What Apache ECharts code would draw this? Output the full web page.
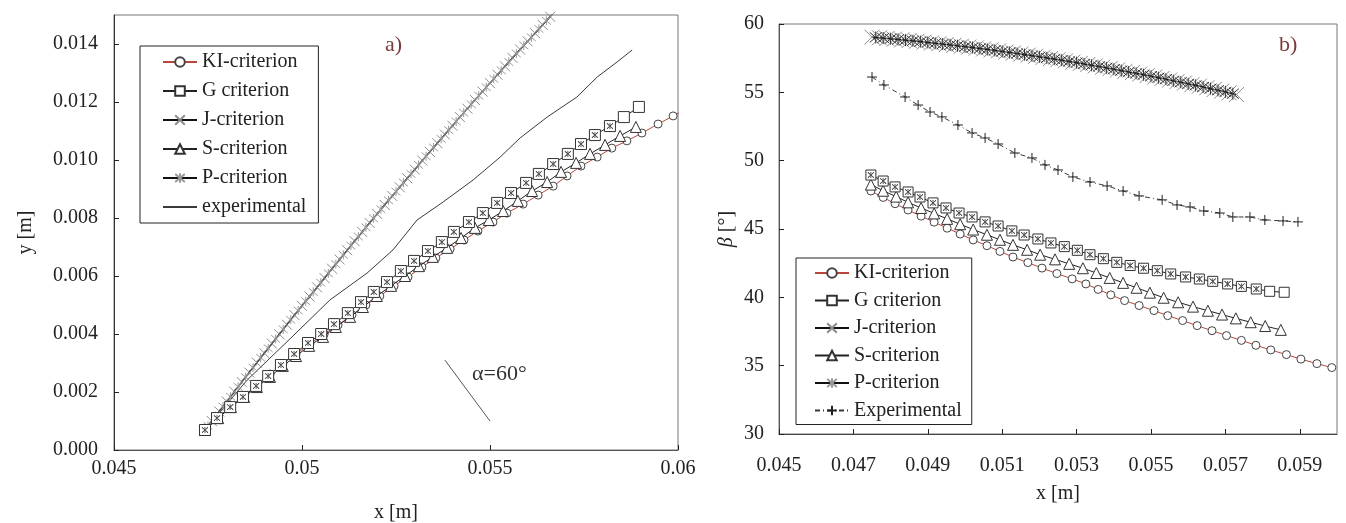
<!DOCTYPE html>
<html>
<head>
<meta charset="utf-8">
<title>Crack path criteria</title>
<script src="https://cdn.jsdelivr.net/npm/echarts@6/dist/echarts.min.js"></script>
<style>
html,body{margin:0;padding:0;background:#fff;}
#main{width:1346px;height:523px;}
</style>
</head>
<body>
<div id="main"></div>
<script>
// ---------- panel a) : crack path, y [m] vs x [m] ----------
const aJX = [0.0474,0.0476,0.0478,0.0480,0.0482,0.0484,0.0486,0.0488,0.0490,0.0492,0.0494,0.0496,0.0498,0.0500,0.0502,0.0504,0.0506,0.0508,0.0510,0.0512,0.0514,0.0516,0.0518,0.0520,0.0522,0.0524,0.0526,0.0528,0.0530,0.0532,0.0534,0.0536,0.0538,0.0540,0.0542,0.0544,0.0546,0.0548,0.0550,0.0552,0.0554,0.0556,0.0558,0.0560,0.0562,0.0564,0.0566]
const aJY = [0.00066,0.00100,0.00133,0.00167,0.00201,0.00234,0.00267,0.00301,0.00334,0.00367,0.00399,0.00432,0.00465,0.00497,0.00529,0.00561,0.00593,0.00625,0.00657,0.00689,0.00720,0.00752,0.00783,0.00814,0.00845,0.00876,0.00906,0.00937,0.00967,0.00998,0.01028,0.01058,0.01088,0.01118,0.01148,0.01177,0.01207,0.01236,0.01265,0.01294,0.01323,0.01352,0.01381,0.01409,0.01437,0.01466,0.01494]
const aPX = [0.0475,0.0477,0.0479,0.0481,0.0483,0.0485,0.0487,0.0489,0.0491,0.0493,0.0495,0.0497,0.0499,0.0501,0.0503,0.0505,0.0507,0.0509,0.0511,0.0513,0.0515,0.0517,0.0519,0.0521,0.0523,0.0525,0.0527,0.0529,0.0531,0.0533,0.0535,0.0537,0.0539,0.0541,0.0543,0.0545,0.0547,0.0549,0.0551,0.0553,0.0555,0.0557,0.0559,0.0561,0.0563,0.0565,0.0567]
const aPY = [0.00083,0.00117,0.00150,0.00184,0.00218,0.00251,0.00284,0.00318,0.00351,0.00383,0.00416,0.00449,0.00481,0.00513,0.00545,0.00577,0.00609,0.00641,0.00673,0.00705,0.00736,0.00768,0.00799,0.00830,0.00861,0.00891,0.00922,0.00952,0.00983,0.01013,0.01043,0.01073,0.01103,0.01133,0.01163,0.01192,0.01222,0.01251,0.01280,0.01309,0.01338,0.01367,0.01395,0.01423,0.01452,0.01480,0.01508]
const aGX = [0.04742,0.04774,0.04809,0.04843,0.04878,0.04910,0.04944,0.04979,0.05016,0.05051,0.05085,0.05122,0.05157,0.05191,0.05226,0.05263,0.05298,0.05335,0.05372,0.05404,0.05444,0.05481,0.05519,0.05556,0.05596,0.05630,0.05668,0.05707,0.05742,0.05779,0.05819,0.05856,0.05896]
const aGY = [0.00069,0.00110,0.00148,0.00183,0.00221,0.00255,0.00293,0.00331,0.00369,0.00400,0.00434,0.00472,0.00510,0.00545,0.00579,0.00617,0.00652,0.00686,0.00717,0.00752,0.00786,0.00817,0.00852,0.00886,0.00921,0.00952,0.00986,0.01021,0.01055,0.01086,0.01117,0.01148,0.01183]
const aSX = [0.04742,0.04777,0.04811,0.04846,0.04880,0.04915,0.04949,0.04984,0.05019,0.05056,0.05090,0.05128,0.05162,0.05199,0.05237,0.05274,0.05311,0.05348,0.05386,0.05423,0.05460,0.05497,0.05535,0.05574,0.05612,0.05652,0.05689,0.05729,0.05766,0.05806,0.05846,0.05888]
const aSY = [0.00069,0.00110,0.00148,0.00183,0.00217,0.00252,0.00290,0.00324,0.00359,0.00390,0.00424,0.00459,0.00493,0.00531,0.00566,0.00600,0.00634,0.00666,0.00697,0.00731,0.00766,0.00793,0.00824,0.00859,0.00893,0.00924,0.00959,0.00990,0.01021,0.01052,0.01083,0.01114]
const aKiX = [0.04742,0.04777,0.04811,0.04846,0.04880,0.04915,0.04949,0.04984,0.05021,0.05059,0.05096,0.05133,0.05170,0.05207,0.05245,0.05282,0.05319,0.05356,0.05394,0.05431,0.05468,0.05508,0.05545,0.05588,0.05628,0.05668,0.05705,0.05742,0.05785,0.05824,0.05864,0.05904,0.05947,0.05987,0.06027]
const aKiY = [0.00069,0.00110,0.00148,0.00186,0.00224,0.00262,0.00297,0.00331,0.00366,0.00400,0.00431,0.00466,0.00500,0.00531,0.00566,0.00597,0.00631,0.00662,0.00693,0.00724,0.00755,0.00786,0.00817,0.00848,0.00879,0.00910,0.00945,0.00979,0.01010,0.01041,0.01066,0.01093,0.01124,0.01152,0.01179]
const aExpX = [0.04742,0.04854,0.04968,0.05074,0.05173,0.05242,0.05306,0.05375,0.05455,0.05527,0.05580,0.05652,0.05731,0.05785,0.05838,0.05878]
const aExpY = [0.00069,0.00241,0.00383,0.00517,0.00610,0.00690,0.00793,0.00855,0.00931,0.01010,0.01076,0.01148,0.01217,0.01286,0.01338,0.01379]
const aAlpha = [[0.0538,0.0031],[0.0550,0.0010]]   // 60 degree guide line
const aXTicks = [0.045,0.05,0.055,0.06]
const aYTicks = [0,0.002,0.004,0.006,0.008,0.010,0.012,0.014]

// ---------- panel b) : crack angle beta [deg] vs x [m] ----------
const bJX = [0.0475,0.0477,0.0479,0.0481,0.0483,0.0485,0.0487,0.0489,0.0491,0.0493,0.0495,0.0497,0.0499,0.0501,0.0503,0.0505,0.0507,0.0509,0.0511,0.0513,0.0515,0.0517,0.0519,0.0521,0.0523,0.0525,0.0527,0.0529,0.0531,0.0533,0.0535,0.0537,0.0539,0.0541,0.0543,0.0545,0.0547,0.0549,0.0551,0.0553,0.0555,0.0557,0.0559,0.0561,0.0563,0.0565,0.0567,0.0569,0.0571,0.0573]
const bJY = [59.04,58.99,58.94,58.89,58.84,58.79,58.74,58.68,58.62,58.56,58.50,58.44,58.37,58.31,58.24,58.17,58.10,58.03,57.95,57.88,57.80,57.72,57.64,57.56,57.47,57.39,57.30,57.21,57.12,57.03,56.93,56.84,56.74,56.64,56.54,56.44,56.34,56.23,56.12,56.02,55.90,55.79,55.68,55.56,55.45,55.33,55.21,55.09,54.96,54.84]
const bPX = [0.0476,0.0478,0.0480,0.0482,0.0484,0.0486,0.0488,0.0490,0.0492,0.0494,0.0496,0.0498,0.0500,0.0502,0.0504,0.0506,0.0508,0.0510,0.0512,0.0514,0.0516,0.0518,0.0520,0.0522,0.0524,0.0526,0.0528,0.0530,0.0532,0.0534,0.0536,0.0538,0.0540,0.0542,0.0544,0.0546,0.0548,0.0550,0.0552,0.0554,0.0556,0.0558,0.0560,0.0562,0.0564,0.0566,0.0568,0.0570,0.0572]
const bPY = [59.02,58.97,58.92,58.87,58.82,58.77,58.71,58.65,58.59,58.53,58.47,58.41,58.34,58.28,58.21,58.14,58.07,57.99,57.92,57.84,57.76,57.68,57.60,57.52,57.43,57.35,57.26,57.17,57.08,56.98,56.89,56.79,56.69,56.59,56.49,56.39,56.29,56.18,56.07,55.96,55.85,55.74,55.62,55.51,55.39,55.27,55.15,55.03,54.90]
const bGX = [0.04747,0.04780,0.04812,0.04847,0.04879,0.04914,0.04949,0.04984,0.05019,0.05054,0.05089,0.05126,0.05159,0.05196,0.05231,0.05267,0.05302,0.05336,0.05372,0.05408,0.05444,0.05480,0.05517,0.05553,0.05593,0.05630,0.05666,0.05706,0.05743,0.05783,0.05819,0.05858]
const bGY = [48.95,48.51,48.08,47.71,47.34,46.91,46.54,46.17,45.88,45.52,45.22,44.86,44.56,44.27,43.98,43.71,43.44,43.12,42.83,42.56,42.33,42.13,41.95,41.71,41.49,41.34,41.17,40.98,40.80,40.61,40.44,40.37]
const bSX = [0.04747,0.04780,0.04815,0.04847,0.04882,0.04917,0.04952,0.04987,0.05022,0.05059,0.05094,0.05129,0.05167,0.05202,0.05242,0.05280,0.05317,0.05353,0.05389,0.05425,0.05461,0.05497,0.05534,0.05573,0.05613,0.05653,0.05691,0.05728,0.05768,0.05807,0.05849]
const bSY = [48.25,47.80,47.37,46.95,46.54,46.14,45.74,45.35,44.96,44.58,44.21,43.84,43.48,43.12,42.78,42.45,42.13,41.78,41.42,41.06,40.70,40.34,39.97,39.64,39.32,39.02,38.74,38.46,38.18,37.90,37.62]
const bKiX = [0.04747,0.04780,0.04812,0.04847,0.04882,0.04917,0.04952,0.04987,0.05022,0.05059,0.05094,0.05129,0.05169,0.05207,0.05247,0.05288,0.05325,0.05358,0.05392,0.05429,0.05468,0.05508,0.05545,0.05585,0.05624,0.05664,0.05703,0.05743,0.05782,0.05822,0.05864,0.05903,0.05946,0.05986]
const bKiY = [47.78,47.31,46.85,46.39,45.94,45.50,45.06,44.63,44.20,43.78,43.36,42.95,42.54,42.14,41.74,41.35,40.98,40.58,40.18,39.76,39.40,39.03,38.66,38.30,37.93,37.56,37.20,36.85,36.49,36.15,35.81,35.48,35.15,34.86]
const bExpX = [0.04750,0.04782,0.04839,0.04874,0.04906,0.04938,0.04981,0.05019,0.05054,0.05089,0.05134,0.05180,0.05215,0.05250,0.05290,0.05336,0.05382,0.05425,0.05468,0.05530,0.05570,0.05605,0.05642,0.05685,0.05720,0.05766,0.05806,0.05855,0.05895]
const bExpY = [56.12,55.54,54.66,54.07,53.56,53.20,52.61,52.03,51.66,51.22,50.56,50.20,49.69,49.32,48.81,48.44,48.15,47.78,47.42,47.13,46.76,46.61,46.32,46.17,45.88,45.88,45.66,45.59,45.52]
const bXTicks = [0.045,0.047,0.049,0.051,0.053,0.055,0.057,0.059]

const namesA = ['KI-criterion','G criterion','J-criterion','S-criterion','P-criterion','experimental']
const namesB = ['KI-criterion','G criterion','J-criterion','S-criterion','P-criterion','Experimental']

const SERIF = "'Liberation Serif','DejaVu Serif',serif"
const X_SYM = 'path://M0,0L10,10M10,0L0,10'
const STAR_SYM = 'path://M0,0L10,10M10,0L0,10M5,-1L5,11'
const PLUS_SYM = 'path://M5,0L5,10M0,5L10,5'
const NO_SYM = 'path://M0,0L10,10'   // drawn with a transparent stroke: plain line in the legend

function pairs(xs, ys) {
  return xs.map((x, i) => [x, ys[i]])
}

function hollow(border) {
  return { color: '#fff', borderColor: border, borderWidth: 1 }
}
function stroked(border, w) {
  return { color: 'none', borderColor: border, borderWidth: w || 1 }
}

// one panel worth of series
function panelSeries(idx, d) {
  return [
    { name: 'J-criterion', type: 'line', xAxisIndex: idx, yAxisIndex: idx, data: d.j,
      symbol: X_SYM, symbolSize: d.bandSize, lineStyle: { color: '#111', width: 1.2 },
      itemStyle: stroked(d.bandColor), z: 3 },
    { name: 'P-criterion', type: 'line', xAxisIndex: idx, yAxisIndex: idx, data: d.p,
      symbol: STAR_SYM, symbolSize: d.starSize, lineStyle: { color: '#111', width: 1.2 },
      itemStyle: stroked(d.starColor), z: 3 },
    { name: d.expName, type: 'line', xAxisIndex: idx, yAxisIndex: idx, data: d.exp,
      symbol: d.expSymbol, symbolSize: 10, showSymbol: d.expSymbol !== NO_SYM,
      lineStyle: { color: '#3a3a3a', width: 1, type: d.expDash },
      itemStyle: stroked(d.expSymbol === NO_SYM ? 'rgba(0,0,0,0)' : '#222'), z: 3, markLine: d.markLine },
    { name: 'KI-criterion', type: 'line', xAxisIndex: idx, yAxisIndex: idx, data: d.ki,
      symbol: 'circle', symbolSize: 8, lineStyle: { color: '#b8463e', width: 1 },
      itemStyle: hollow('#444'), z: 4 },
    { name: 'S-criterion', type: 'line', xAxisIndex: idx, yAxisIndex: idx, data: d.s,
      symbol: 'triangle', symbolSize: 11, lineStyle: { color: '#222', width: 1 },
      itemStyle: hollow('#333'), z: 5 },
    { name: 'G criterion', type: 'line', xAxisIndex: idx, yAxisIndex: idx, data: d.g,
      symbol: 'rect', symbolSize: d.sqSize, lineStyle: { color: '#222', width: 1 },
      itemStyle: hollow('#333'), z: 6 },
    // J and P land on the G points as well (small marks inside the squares)
    { name: 'J-criterion', type: 'line', xAxisIndex: idx, yAxisIndex: idx, data: d.gInner,
      symbol: X_SYM, symbolSize: 6, lineStyle: { opacity: 0 },
      itemStyle: stroked('#444'), z: 7 },
    { name: 'P-criterion', type: 'line', xAxisIndex: idx, yAxisIndex: idx, data: d.gInner,
      symbol: STAR_SYM, symbolSize: 6, lineStyle: { opacity: 0 },
      itemStyle: stroked('#555'), z: 7 }
  ]
}

const seriesA = panelSeries(0, {
  j: pairs(aJX, aJY), p: pairs(aPX, aPY), bandSize: 10, bandColor: '#8c8c8c', starSize: 9, starColor: '#9a9a9a',
  exp: pairs(aExpX, aExpY), expName: 'experimental', expSymbol: NO_SYM, expDash: 'solid',
  ki: pairs(aKiX, aKiY), s: pairs(aSX, aSY), g: pairs(aGX, aGY), sqSize: 11,
  gInner: pairs(aGX.slice(0, 31), aGY.slice(0, 31)),
  markLine: {
    silent: true, symbol: 'none', label: { show: false },
    lineStyle: { color: '#555', width: 1, type: 'solid' },
    data: [[{ coord: aAlpha[0] }, { coord: aAlpha[1] }]]
  }
})

const seriesB = panelSeries(1, {
  j: pairs(bJX, bJY), p: pairs(bPX, bPY), bandSize: 15, bandColor: '#8a8a8a', starSize: 12, starColor: '#333',
  exp: pairs(bExpX, bExpY), expName: 'Experimental', expSymbol: PLUS_SYM, expDash: [5, 3, 1, 3],
  ki: pairs(bKiX, bKiY), s: pairs(bSX, bSY), g: pairs(bGX, bGY), sqSize: 10,
  gInner: pairs(bGX.slice(0, 30), bGY.slice(0, 30)),
  markLine: undefined
})

const labelStyle = { fontFamily: SERIF, fontSize: 20, color: '#222' }
const nameStyle = { fontFamily: SERIF, fontSize: 20, color: '#222' }
const tickStyle = { inside: true, length: 5, lineStyle: { color: '#222' } }

function legendAt(left, top, names, gap, pad) {
  return {
    left: left, top: top, orient: 'vertical', data: names,
    itemGap: gap, itemWidth: 34, itemHeight: 12,
    padding: pad,
    borderColor: '#222', borderWidth: 1, backgroundColor: '#fff',
    textStyle: { fontFamily: SERIF, fontSize: 20, color: '#222' }
  }
}

const chart = echarts.init(document.getElementById('main'))
const option = {
  animation: false,
  backgroundColor: '#fff',
  grid: [
    { left: 114, top: 15, right: 668, bottom: 73, show: true, borderColor: '#777', borderWidth: 1, outerBoundsMode: 'none' },
    { left: 779, top: 24, right: 9, bottom: 89, show: true, borderColor: '#777', borderWidth: 1, outerBoundsMode: 'none' }
  ],
  xAxis: [
    { gridIndex: 0, type: 'value', min: 0.045, max: 0.06,
      name: 'x [m]', nameLocation: 'middle', nameGap: 53, nameTextStyle: nameStyle,
      axisLine: { onZero: false, lineStyle: { color: '#555' } },
      axisTick: Object.assign({ customValues: aXTicks }, tickStyle),
      axisLabel: Object.assign({ customValues: aXTicks, margin: 9 }, labelStyle),
      splitLine: { show: false } },
    { gridIndex: 1, type: 'value', min: 0.045, max: 0.06,
      name: 'x [m]', nameLocation: 'middle', nameGap: 50, nameTextStyle: nameStyle,
      axisLine: { onZero: false, lineStyle: { color: '#444' } },
      axisTick: Object.assign({ customValues: bXTicks }, tickStyle),
      axisLabel: Object.assign({ customValues: bXTicks, margin: 22, formatter: v => v.toFixed(3) }, labelStyle),
      splitLine: { show: false } }
  ],
  yAxis: [
    { gridIndex: 0, type: 'value', min: 0, max: 0.015,
      name: 'y [m]', nameLocation: 'middle', nameGap: 78, nameTextStyle: nameStyle,
      axisLine: { onZero: false, lineStyle: { color: '#333' } },
      axisTick: Object.assign({ customValues: aYTicks }, tickStyle),
      axisLabel: Object.assign({ customValues: aYTicks, margin: 16, formatter: v => v.toFixed(3) }, labelStyle),
      splitLine: { show: false } },
    { gridIndex: 1, type: 'value', min: 30, max: 60, interval: 5,
      name: '{b|β} [°]', nameLocation: 'middle', nameGap: 42,
      nameTextStyle: Object.assign({ rich: { b: { fontFamily: SERIF, fontSize: 20, fontStyle: 'italic', color: '#222' } } }, nameStyle),
      axisLine: { onZero: false, lineStyle: { color: '#555' } },
      axisTick: tickStyle,
      axisLabel: Object.assign({ margin: 15 }, labelStyle),
      splitLine: { show: false } }
  ],
  legend: [
    legendAt(140, 46, namesA, 9, [6, 12, 6, 22]),
    legendAt(796, 258, namesB, 7.5, [5, 10, 4, 18])
  ],
  graphic: [
    { type: 'text', left: 385, top: 34, style: { text: 'a)', font: '22px ' + SERIF, fill: '#7a3a3a' } },
    { type: 'text', left: 1279, top: 34, style: { text: 'b)', font: '22px ' + SERIF, fill: '#7a3a3a' } },
    { type: 'text', left: 472, top: 363, style: { text: 'α=60°', font: '22px ' + SERIF, fill: '#333' } }
  ],
  series: seriesA.concat(seriesB)
}
chart.setOption(option)
</script>
</body>
</html>
